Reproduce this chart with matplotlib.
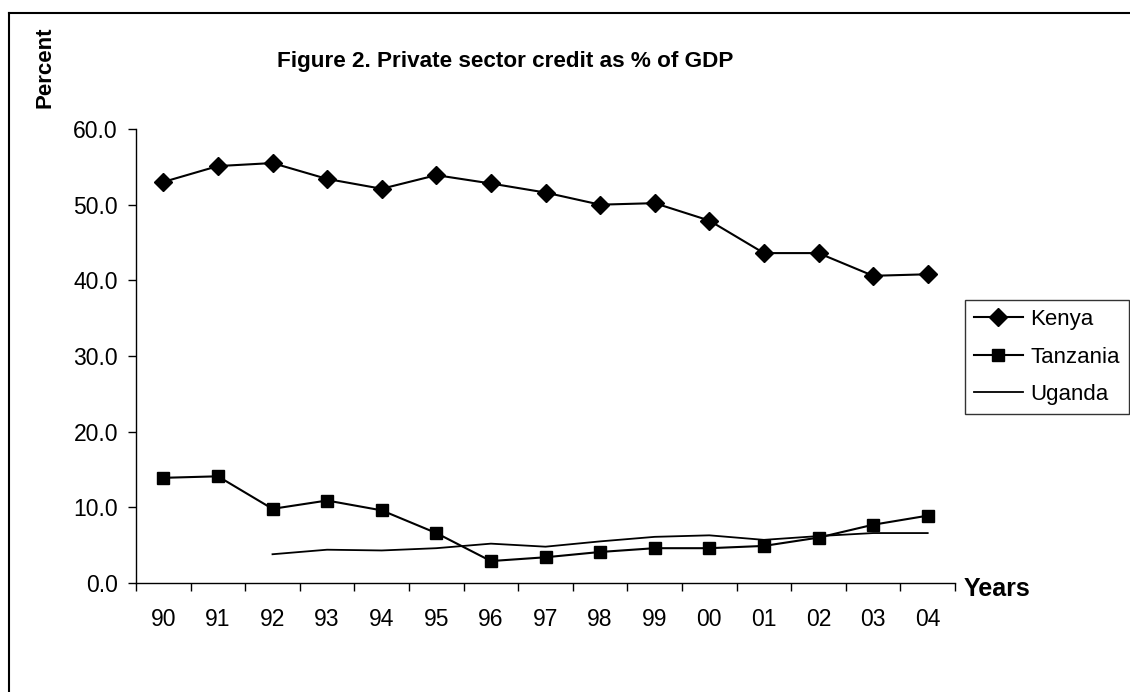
import matplotlib
matplotlib.use("Agg")
import matplotlib.pyplot as plt
from matplotlib.lines import Line2D

plt.rcParams['font.family'] = ['Liberation Sans', 'DejaVu Sans']

years = ["90", "91", "92", "93", "94", "95", "96", "97", "98", "99", "00", "01", "02", "03", "04"]
kenya = [53.0, 55.1, 55.5, 53.4, 52.1, 53.9, 52.8, 51.6, 50.0, 50.2, 47.9, 43.6, 43.6, 40.6, 40.8]
tanzania = [13.9, 14.1, 9.8, 10.9, 9.6, 6.6, 2.9, 3.4, 4.1, 4.6, 4.6, 4.9, 6.0, 7.7, 8.9]
uganda = [None, None, 3.8, 4.4, 4.3, 4.6, 5.2, 4.8, 5.5, 6.1, 6.3, 5.7, 6.2, 6.6, 6.6]
yticks = [0, 10, 20, 30, 40, 50, 60]

W, H = 1130, 692
fig = plt.figure(figsize=(W / 100, H / 100), dpi=100)
ax = fig.add_axes([136 / W, 1 - 583 / H, (955 - 136) / W, (583 - 129) / H])

x = list(range(len(years)))
ax.plot(x, kenya, color='black', lw=1.5, marker='D', ms=9, label='Kenya')
ax.plot(x, tanzania, color='black', lw=1.5, marker='s', ms=8, label='Tanzania')
ux = [i for i, v in zip(x, uganda) if v is not None]
uy = [v for v in uganda if v is not None]
ax.plot(ux, uy, color='black', lw=1.3, label='Uganda')

ax.set_xlim(-0.5, len(years) - 0.5)
ax.set_ylim(0, 60)
ax.set_yticks(yticks)
ax.set_yticklabels([f"{v:.1f}" for v in yticks])
ax.set_xticks(x)
ax.set_xticklabels(years)
ax.set_xticks([i - 0.5 for i in range(len(years) + 1)], minor=True)
ax.tick_params(axis='x', which='major', length=0, labelsize=16.5, pad=18)
ax.tick_params(axis='x', which='minor', length=6, width=1, direction='out')
ax.tick_params(axis='y', length=6, width=1, direction='out', labelsize=16.5, pad=7)
for s in ['top', 'right']:
    ax.spines[s].set_visible(False)
for s in ['left', 'bottom']:
    ax.spines[s].set_linewidth(1)

fig.text(505 / W, 1 - 62 / H, "Figure 2. Private sector credit as % of GDP",
         ha='center', va='center', fontsize=16.2, fontweight='bold')
fig.text(45 / W, 1 - 67 / H, "Percent", rotation=90, ha='center', va='center',
         fontsize=16, fontweight='bold')
fig.text(964 / W, 1 - 589 / H, "Years", ha='left', va='center',
         fontsize=18, fontweight='bold')

leg = fig.legend(loc='upper left', bbox_to_anchor=(965 / W, 1 - 300 / H),
                 fontsize=16, frameon=True, fancybox=False, edgecolor='black',
                 handlelength=2.2, handletextpad=0.35, borderpad=0.4,
                 labelspacing=0.75, borderaxespad=0)
leg.get_frame().set_linewidth(1)

fig.add_artist(Line2D([9 / W, 1.0], [1 - 13 / H, 1 - 13 / H], transform=fig.transFigure,
                      color='black', lw=1.5))
fig.add_artist(Line2D([9 / W, 9 / W], [0, 1 - 13 / H], transform=fig.transFigure,
                      color='black', lw=1.5))

fig.savefig("out.png", dpi=100)
